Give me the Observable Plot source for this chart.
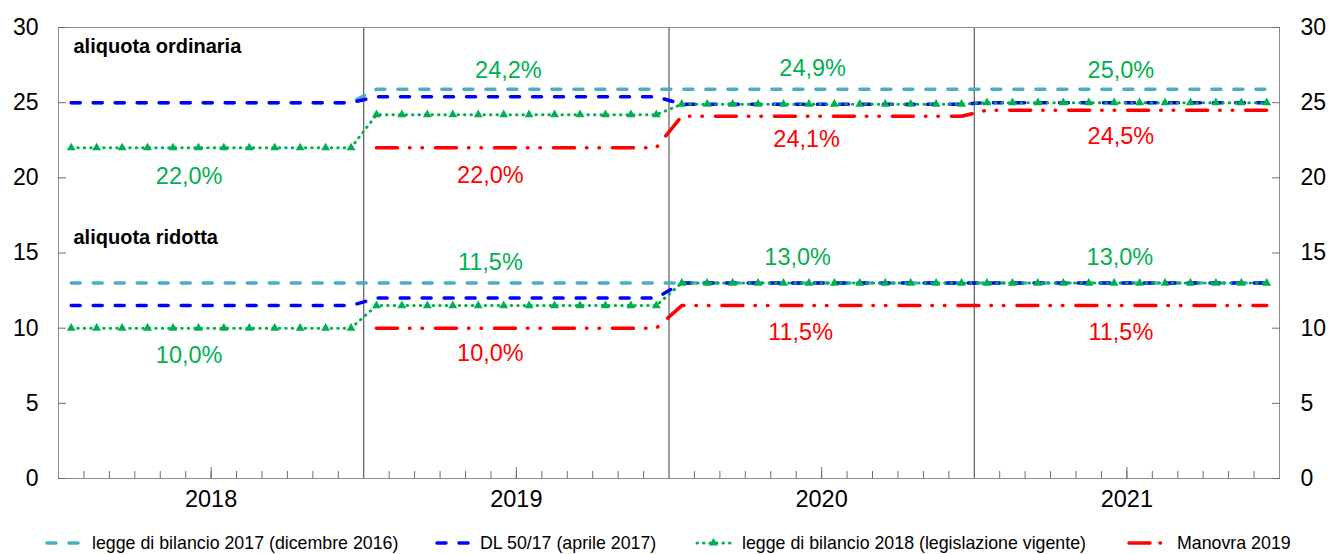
<!DOCTYPE html>
<html>
<head>
<meta charset="utf-8">
<script src="https://cdn.jsdelivr.net/npm/d3@7"></script>
<script src="https://cdn.jsdelivr.net/npm/@observablehq/plot@0.6"></script>
<style>
  body { margin: 0; background: #fff; font-family: "Liberation Sans", Arial, sans-serif; }
  #wrap { position: relative; width: 1329px; height: 554px; overflow: hidden; }
  #legend { position: absolute; left: 0; top: 531px; width: 1329px; height: 24px; font-size: 17.8px; color: #000; }
  .item { position: absolute; top: 0; height: 24px; display: flex; align-items: center; white-space: nowrap; }
  .item svg { position: absolute; top: 7px; }
</style>
</head>
<body>
<div id="wrap"><div id="chart"></div><div id="legend"></div></div>
<script>
// ---------------- data ----------------
const years = ["2018", "2019", "2020", "2021"];
const monthsPerYear = 12;
const panels = ["ordinaria", "ridotta"];
const seriesNames = [
  "legge di bilancio 2017 (dicembre 2016)",
  "DL 50/17 (aprile 2017)",
  "legge di bilancio 2018 (legislazione vigente)",
  "Manovra 2019"
];
// annual VAT rates (%), one value per year 2018..2021 (null = not present)
const lb2017Ordinaria = [25.0, 25.9, 25.9, 25.9];
const lb2017Ridotta   = [13.0, 13.0, 13.0, 13.0];
const dl50Ordinaria   = [25.0, 25.4, 24.9, 25.0];
const dl50Ridotta     = [11.5, 12.0, 13.0, 13.0];
const lb2018Ordinaria = [22.0, 24.2, 24.9, 25.0];
const lb2018Ridotta   = [10.0, 11.5, 13.0, 13.0];
const man2019Ordinaria = [null, 22.0, 24.1, 24.5];
const man2019Ridotta   = [null, 10.0, 11.5, 11.5];
const yTicks = [0, 5, 10, 15, 20, 25, 30];
// labelled values: series index, panel, year index, value
const labelSeries = [2, 2, 2, 2, 3, 3, 3, 2, 2, 2, 2, 3, 3, 3];
const labelPanel  = ["ordinaria","ordinaria","ordinaria","ordinaria","ordinaria","ordinaria","ordinaria",
                     "ridotta","ridotta","ridotta","ridotta","ridotta","ridotta","ridotta"];
const labelYear   = [0, 1, 2, 3, 1, 2, 3, 0, 1, 2, 3, 1, 2, 3];
const labelValue  = [22.0, 24.2, 24.9, 25.0, 22.0, 24.1, 24.5, 10.0, 11.5, 13.0, 13.0, 10.0, 11.5, 11.5];
const panelTitles = ["aliquota ordinaria", "aliquota ridotta"];

// ---------------- styles / layout ----------------
const colors = ["#4BACC6", "#0000FF", "#00B050", "#FF0000"];
const dashes = ["9,13", "9,13", "0.5,6", "21,12,0.5,12,0.5,13"];
const widths = [3.5, 3.5, 3, 3.5];
const labelDx = [-22, -8, -9, -6, -26, -15, -6, -22, -26, -24, -7, -26, -21, -6];
const labelDy = [29, -44, -36, -32, 28, 23, 26, 27, -43, -26, -26, 25, 27, 27];
const titleY = [28.7, 16.0];

// ---------------- build table ----------------
const annual = [
  [lb2017Ordinaria, lb2017Ridotta],
  [dl50Ordinaria, dl50Ridotta],
  [lb2018Ordinaria, lb2018Ridotta],
  [man2019Ordinaria, man2019Ridotta]
];
const rows = [];
annual.forEach((pair, s) => {
  pair.forEach((vals, p) => {
    vals.forEach((v, yi) => {
      if (v == null) return;
      for (let m = 0; m < monthsPerYear; m++) {
        rows.push({series: seriesNames[s], s, panel: panels[p], i: yi * monthsPerYear + m, v});
      }
    });
  });
});
const nMonths = years.length * monthsPerYear;
const monthBounds = d3.range(1, nMonths).map(k => k - 0.5).filter(b => (b + 0.5) % monthsPerYear !== 0);
const yearBounds = d3.range(1, years.length).map(k => k * monthsPerYear - 0.5);
const yearCenters = years.map((_, k) => k * monthsPerYear + monthsPerYear / 2 - 0.5);
const fmt = v => d3.format(".1f")(v).replace(".", ",") + "%";
const blank = () => "";

const marks = [
  Plot.ruleX(yearBounds, {stroke: "#3a3a3a", strokeWidth: 1}),
  Plot.frame({stroke: "#8c8c8c", strokeWidth: 1}),
  Plot.axisX({anchor: "bottom", ticks: monthBounds, tickSize: 7, dy: -7, stroke: "#6e6e6e", tickFormat: blank}),
  Plot.axisX({anchor: "bottom", ticks: yearCenters, tickSize: 11, dy: -11, stroke: "#6e6e6e", tickFormat: blank}),
  Plot.axisX({anchor: "bottom", ticks: yearCenters, tickSize: 0, tickPadding: 12, fontSize: 23.5,
    tickFormat: d => years[Math.round((d - monthsPerYear / 2 + 0.5) / monthsPerYear)], fill: "#000"}),
  Plot.axisY({anchor: "left", ticks: yTicks, tickSize: 8, dx: 8, stroke: "#6e6e6e", tickFormat: blank}),
  Plot.axisY({anchor: "right", ticks: yTicks, tickSize: 8, dx: -8, stroke: "#6e6e6e", tickFormat: blank}),
  Plot.axisY({anchor: "left", ticks: yTicks, tickSize: 0, tickPadding: 20, fill: "#000", fontSize: 23}),
  Plot.axisY({anchor: "right", ticks: yTicks, tickSize: 0, tickPadding: 21, fill: "#000", fontSize: 23})
];
seriesNames.forEach((name, s) => {
  marks.push(Plot.line(rows.filter(d => d.s === s), {
    x: "i", y: "v", z: "panel", stroke: colors[s], strokeWidth: widths[s],
    strokeDasharray: dashes[s], strokeLinecap: "round", strokeLinejoin: "round"
  }));
  if (s === 2) {
    marks.push(Plot.dot(rows.filter(d => d.s === s), {
      x: "i", y: "v", symbol: "triangle", r: 3.3, fill: colors[s], stroke: "none"
    }));
  }
});
labelValue.forEach((v, k) => {
  marks.push(Plot.text([{x: yearCenters[labelYear[k]], y: v, t: fmt(v)}], {
    x: "x", y: "y", text: "t", fill: colors[labelSeries[k]], dx: labelDx[k], dy: labelDy[k],
    fontSize: 23.5
  }));
});
panelTitles.forEach((t, k) => {
  marks.push(Plot.text([t], {y: () => titleY[k], frameAnchor: "left", dx: 15, textAnchor: "start",
    fontWeight: "bold", fontSize: 20, fill: "#000"}));
});

const chart = Plot.plot({
  width: 1329,
  height: 515,
  marginLeft: 58,
  marginRight: 50,
  marginTop: 27,
  marginBottom: 37,
  x: {type: "linear", domain: [-0.5, nMonths - 0.5]},
  y: {domain: [0, 30]},
  style: {fontFamily: "'Liberation Sans', Arial, sans-serif", fontSize: "22px", background: "#fff", color: "#000"},
  marks
});
document.getElementById("chart").appendChild(chart);

// ---------------- legend ----------------
const legendPos = [[45, 92], [435, 480], [695, 742], [1127, 1177]];
const legend = d3.select("#legend");
seriesNames.forEach((name, s) => {
  const item = legend.append("div").attr("class", "item").style("left", legendPos[s][0] + "px");
  const sw = legendPos[s][1] - legendPos[s][0] - 10;
  const svg = item.append("svg").attr("width", sw).attr("height", 10).style("left", "0px");
  svg.append("line").attr("x1", 2).attr("x2", sw - 2).attr("y1", 5).attr("y2", 5)
    .attr("stroke", colors[s]).attr("stroke-width", widths[s])
    .attr("stroke-dasharray", s === 3 ? "21,10,0.5,50" : (s === 2 ? "0.5,6" : "9,13"))
    .attr("stroke-linecap", "round");
  if (s === 2) {
    svg.append("path").attr("d", d3.symbol(d3.symbolTriangle, Math.PI * 3.3 * 3.3)())
      .attr("transform", `translate(${sw / 2},5)`).attr("fill", colors[s]);
  }
  item.append("span").text(name).style("position", "absolute")
    .style("left", (legendPos[s][1] - legendPos[s][0]) + "px");
});
</script>
</body>
</html>
